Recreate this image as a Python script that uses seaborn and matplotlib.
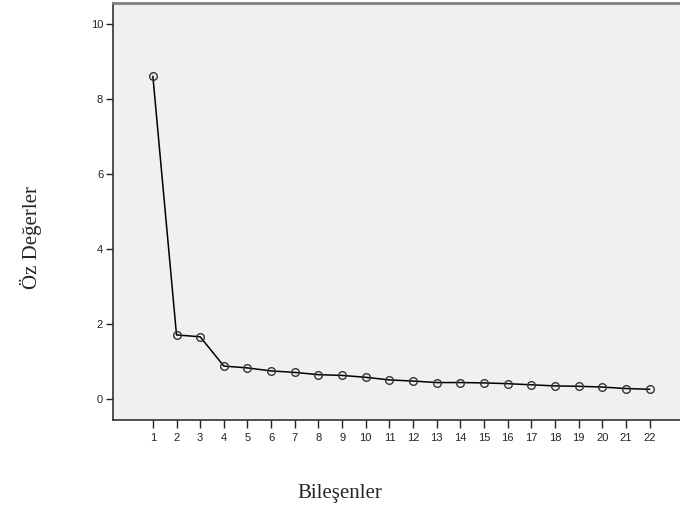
import matplotlib
matplotlib.use("Agg")
import matplotlib.pyplot as plt
import seaborn as sns
import pandas as pd

# ==========================================================
# Data (scree plot eigenvalues)
# ==========================================================

components = list(range(1, 23))
eigenvalues = [8.61, 1.71, 1.66, 0.88, 0.83, 0.75, 0.71, 0.65, 0.63, 0.58,
               0.51, 0.48, 0.44, 0.44, 0.43, 0.41, 0.38, 0.35, 0.34, 0.32,
               0.28, 0.26]
y_ticks = [0, 2, 4, 6, 8, 10]

df = pd.DataFrame({"Bileşenler": components, "Öz Değerler": eigenvalues})

# ==========================================================
# Style
# ==========================================================

sns.set_style("ticks")
plt.rcParams["font.family"] = ["Liberation Sans", "DejaVu Sans"]

fig = plt.figure(figsize=(6.8, 5.11), dpi=100)
ax = fig.add_axes([0.166, 0.178, 0.86, 0.816])
ax.set_facecolor("#F0F0F0")

sns.lineplot(
    data=df,
    x="Bileşenler",
    y="Öz Değerler",
    ax=ax,
    color="black",
    linewidth=1.1,
    marker="o",
    markersize=5.5,
    markerfacecolor="none",
    markeredgecolor="#333333",
    markeredgewidth=1.0,
)

ax.set_xlim(-0.69, 24.03)
ax.set_ylim(-0.56, 10.56)
ax.set_xticks(components)
ax.set_yticks(y_ticks)
ax.tick_params(axis="both", labelsize=8, colors="#222222",
               width=1.0, direction="out")
ax.tick_params(axis="x", length=6, pad=3)
ax.tick_params(axis="y", length=5, pad=2)

for side in ["left", "bottom"]:
    ax.spines[side].set_color("#333333")
    ax.spines[side].set_linewidth(1.2)
ax.spines["top"].set_visible(True)
ax.spines["top"].set_color("#808080")
ax.spines["top"].set_linewidth(2)
ax.spines["right"].set_visible(False)

ax.set_xlabel("")
ax.set_ylabel("")
fig.text(0.5, 0.035, "Bileşenler", ha="center", va="center",
         fontsize=15, family=["Liberation Serif", "DejaVu Serif"])
fig.text(0.045, 0.535, "Öz Değerler", ha="center", va="center",
         rotation=90, fontsize=15, family=["Liberation Serif", "DejaVu Serif"])

plt.savefig("out.png", dpi=100)
